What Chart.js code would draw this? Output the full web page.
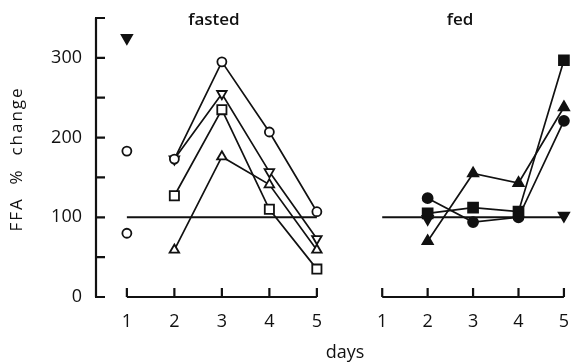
<!DOCTYPE html>
<html>
<head>
<meta charset="utf-8">
<script src="https://cdn.jsdelivr.net/npm/chart.js@4.4.0/dist/chart.umd.min.js"></script>
<style>
  html, body { margin: 0; padding: 0; background: #fff; }
  #wrap { position: relative; width: 575px; height: 362px; }
  canvas { position: absolute; top: 0; }
</style>
</head>
<body>
<div id="wrap">
  <canvas id="fastedChart" width="575" height="362" style="left:0"></canvas>
  <canvas id="fedChart" width="235" height="362" style="left:340px"></canvas>
</div>
<script>
const days = [1, 2, 3, 4, 5];
const yTickLabels = [0, 100, 200, 300];
const yMinorStep = 50;
const yTop = 350;
const baseline = 100;

// fasted: open symbols, day 1 points are not joined
const fastedCircle = [null, 173, 295, 207, 107];
const fastedInvTri = [null, 173, 255, 157, 73];
const fastedSquare = [null, 127, 235, 110, 35];
const fastedTri = [null, 59, 176, 141, 59];
const fastedDay1 = [325, 183, 80];

// fed: filled symbols
const fedCircle = [null, 124, 94, 100, 221];
const fedSquare = [null, 105, 112, 107, 297];
const fedTri = [null, 70, 155, 143, 238];
const fedInvTri = [null, 98, null, null, 102];

const FONT = '"Open Sans", "DejaVu Sans", sans-serif';
const INK = '#111';

function pts(arr) {
  return days.map((d, i) => ({x: d, y: arr[i]}));
}

function series(arr, style, filled, radius, rotation) {
  return {
    data: pts(arr),
    borderColor: INK,
    borderWidth: 1.7,
    pointStyle: style,
    pointRotation: rotation || 0,
    pointRadius: radius,
    pointBorderWidth: 1.8,
    pointBackgroundColor: filled ? INK : '#fff',
    pointBorderColor: INK,
    showLine: true,
    spanGaps: false,
    clip: false
  };
}

function baselineSet() {
  return {
    data: [{x: days[0], y: baseline}, {x: days[days.length - 1], y: baseline}],
    borderColor: INK,
    borderWidth: 2,
    pointRadius: 0,
    showLine: true,
    clip: false
  };
}

function axesPlugin(withYAxis, title, titleX) {
  return {
    id: 'oldAxes',
    beforeDatasetsDraw(chart) {
      const {ctx, chartArea, scales: {x, y}} = chart;
      const y0 = y.getPixelForValue(0);
      ctx.save();
      ctx.strokeStyle = INK;
      ctx.lineWidth = 2.2;
      ctx.beginPath();
      ctx.moveTo(x.getPixelForValue(days[0]), y0);
      ctx.lineTo(x.getPixelForValue(days[days.length - 1]), y0);
      days.forEach(d => {
        const px = x.getPixelForValue(d);
        ctx.moveTo(px, y0);
        ctx.lineTo(px, y0 - 9);
      });
      if (withYAxis) {
        const ax = chartArea.left;
        ctx.moveTo(ax, y0);
        ctx.lineTo(ax, y.getPixelForValue(yTop));
        for (let v = 0; v <= yTop; v += yMinorStep) {
          const py = y.getPixelForValue(v);
          ctx.moveTo(ax - 1, py);
          ctx.lineTo(ax + 9, py);
        }
      }
      ctx.stroke();

      ctx.fillStyle = INK;
      ctx.font = '500 18px ' + FONT;
      ctx.textAlign = 'center';
      ctx.textBaseline = 'middle';
      days.forEach(d => ctx.fillText(String(d), x.getPixelForValue(d), y0 + 25));
      if (withYAxis) {
        ctx.textAlign = 'right';
        yTickLabels.forEach(v => ctx.fillText(String(v), chartArea.left - 14, y.getPixelForValue(v)));
      }
      ctx.textAlign = 'center';
      ctx.font = '600 17px ' + FONT;
      ctx.fillText(title, titleX, 20);
      if (withYAxis) {
        ctx.font = '500 18px ' + FONT;
        ctx.fillText('days', 345, 353);
        ctx.save();
        ctx.translate(17, 159);
        ctx.rotate(-Math.PI / 2);
        ctx.font = '500 17px ' + FONT;
        ctx.letterSpacing = '2px';
        ctx.fillText('FFA  %  change', 0, 0);
        ctx.restore();
      }
      ctx.restore();
    }
  };
}

function baseOptions(padding, xMin, xMax) {
  return {
    responsive: false,
    animation: false,
    events: [],
    layout: {padding},
    plugins: {legend: {display: false}, tooltip: {enabled: false}},
    scales: {
      x: {type: 'linear', min: xMin, max: xMax, display: false},
      y: {type: 'linear', min: 0, max: yTop, display: false}
    }
  };
}

document.addEventListener('DOMContentLoaded', function() {
  // day-1 markers of the fasted panel
  const day1Set = {
    data: fastedDay1.map(v => ({x: 1, y: v})),
    showLine: false,
    pointStyle: ['triangle', 'circle', 'circle'],
    pointRotation: [180, 0, 0],
    pointRadius: [6, 4.5, 4.5],
    pointBorderWidth: 1.8,
    pointBackgroundColor: [INK, '#fff', '#fff'],
    pointBorderColor: INK,
    clip: false
  };
  const day1Dot = {
    data: [{x: 1, y: fastedDay1[1]}],
    showLine: false,
    pointStyle: 'circle',
    pointRadius: 1.6,
    pointBackgroundColor: INK,
    pointBorderColor: INK,
    clip: false
  };

  new Chart(document.getElementById('fastedChart').getContext('2d'), {
    type: 'scatter',
    data: {
      datasets: [
        baselineSet(),
        series(fastedCircle, 'circle', false, 4.5),
        series(fastedSquare, 'rect', false, 6.5),
        series(fastedTri, 'triangle', false, 5.5),
        series(fastedInvTri, 'triangle', false, 5.5, 180),
        day1Set,
        day1Dot
      ]
    },
    options: baseOptions({left: 96, top: 18, bottom: 65, right: 241.5}, 0.35, 5.35),
    plugins: [axesPlugin(true, 'fasted', 214)]
  });

  new Chart(document.getElementById('fedChart').getContext('2d'), {
    type: 'scatter',
    data: {
      datasets: [
        baselineSet(),
        series(fedCircle, 'circle', true, 5),
        series(fedTri, 'triangle', true, 6),
        series(fedSquare, 'rect', true, 7),
        Object.assign(series(fedInvTri, 'triangle', true, 6, 180), {showLine: false})
      ]
    },
    options: baseOptions({left: 19.5, top: 18, bottom: 65, right: 1.65}, 0.5, 5.05),
    plugins: [axesPlugin(false, 'fed', 120)]
  });
});
</script>
</body>
</html>
